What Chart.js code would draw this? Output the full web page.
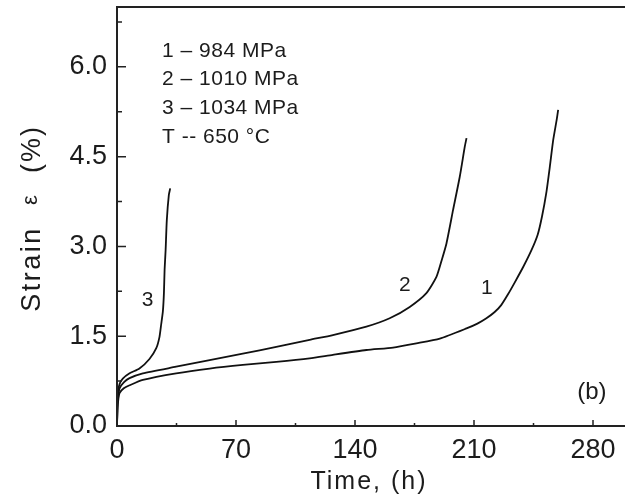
<!DOCTYPE html>
<html>
<head>
<meta charset="utf-8">
<script src="https://cdn.jsdelivr.net/npm/chart.js@4/dist/chart.umd.min.js"></script>
<style>
  html, body { margin: 0; padding: 0; background: #fff; overflow: hidden; width: 625px; height: 503px; }
  #wrap { position: absolute; left: 0; top: 0; width: 640px; height: 503px; }
</style>
</head>
<body>
<div id="wrap"><canvas id="c" width="640" height="503"></canvas></div>
<script>
// ---- data ----
const time1   = [0, 0.3, 0.8, 1.5, 4, 7.4, 15.2, 34.8, 54.5, 74, 93.7, 113.3, 127, 146.7, 162.4, 176.1, 189.9, 205.6, 212, 217.3, 222, 226, 230, 234, 239, 244, 247.5, 250, 252.5, 254.6, 256.6, 258.6, 259.5];
const strain1 = [0, 0.30, 0.45, 0.55, 0.63, 0.68, 0.77, 0.88, 0.96, 1.02, 1.07, 1.13, 1.19, 1.27, 1.31, 1.38, 1.46, 1.63, 1.71, 1.80, 1.90, 2.02, 2.20, 2.40, 2.66, 2.95, 3.20, 3.50, 3.89, 4.33, 4.78, 5.11, 5.28];

const time2   = [0, 0.3, 0.8, 1.5, 4, 7.4, 15.2, 34.8, 54.5, 74, 93.7, 113.3, 127, 146.7, 160.4, 172.2, 182, 187.9, 191, 193.8, 197.7, 201.6, 204.6, 205.6];
const strain2 = [0, 0.35, 0.52, 0.63, 0.73, 0.80, 0.88, 0.99, 1.10, 1.21, 1.32, 1.44, 1.52, 1.66, 1.80, 1.99, 2.22, 2.49, 2.77, 3.05, 3.61, 4.16, 4.67, 4.81];

const time3   = [0, 0.3, 0.8, 1.5, 3.4, 7.4, 13.2, 19.1, 23.1, 25, 26, 27, 27.6, 28, 28.6, 29.3, 30.5, 31.3];
const strain3 = [0, 0.40, 0.60, 0.70, 0.79, 0.88, 0.96, 1.12, 1.30, 1.49, 1.70, 1.92, 2.22, 2.61, 2.94, 3.44, 3.86, 3.97];

const xTicks = [0, 70, 140, 210, 280];
const xMinorTicks = [35, 105, 175, 245];
const yTicks = [0, 1.5, 3.0, 4.5, 6.0];
const yMinorTicks = [0.75, 2.25, 3.75, 5.25, 6.75];

const legendLines = ['1 \u2013 984 MPa', '2 \u2013 1010 MPa', '3 \u2013 1034 MPa', 'T -- 650 \u00B0C'];
const curveLabels = [
  { text: '3', x: 18, y: 2.1 },
  { text: '2', x: 169.3, y: 2.35 },
  { text: '1', x: 217.5, y: 2.31 },
  { text: '(b)', x: 279.3, y: 0.57 }
];
const xTitle = 'Time, (h)';
const yTitleParts = ['Strain', '\u03B5', '(%)'];

// ---- chart ----
const FONT = '"Liberation Sans", Arial, sans-serif';
const INK = '#1c1c1c';
const toPts = (xs, ys) => xs.map((x, i) => ({ x: x, y: ys[i] }));
const noPad = s => { s.paddingTop = 0; s.paddingBottom = 0; s.paddingLeft = 0; s.paddingRight = 0; };

const decor = {
  id: 'decor',
  afterDraw(chart) {
    const ctx = chart.ctx;
    const a = chart.chartArea;
    const xs = chart.scales.x, ys = chart.scales.y;
    ctx.save();
    // frame
    ctx.strokeStyle = '#222';
    ctx.lineWidth = 2;
    ctx.strokeRect(a.left, a.top, a.right - a.left, a.bottom - a.top);
    // inward ticks
    ctx.lineWidth = 1.5;
    ctx.beginPath();
    xTicks.forEach(v => { const p = xs.getPixelForValue(v); ctx.moveTo(p, a.bottom); ctx.lineTo(p, a.bottom - 6); });
    xMinorTicks.forEach(v => { const p = xs.getPixelForValue(v); ctx.moveTo(p, a.bottom); ctx.lineTo(p, a.bottom - 3); });
    yTicks.forEach(v => { const p = ys.getPixelForValue(v); ctx.moveTo(a.left, p); ctx.lineTo(a.left + 9, p); });
    yMinorTicks.forEach(v => { const p = ys.getPixelForValue(v); ctx.moveTo(a.left, p); ctx.lineTo(a.left + 5, p); });
    ctx.stroke();

    ctx.fillStyle = INK;
    // legend text block
    ctx.font = '21px ' + FONT;
    ctx.textAlign = 'left';
    ctx.textBaseline = 'middle';
    ctx.letterSpacing = '0.5px';
    legendLines.forEach((t, i) => ctx.fillText(t, a.left + 45, a.top + 44 + i * 28.7));
    ctx.letterSpacing = '0px';
    // curve labels
    ctx.textAlign = 'center';
    curveLabels.forEach(l => {
      ctx.font = (l.text.length > 1 ? '24px ' : '21px ') + FONT;
      ctx.fillText(l.text, xs.getPixelForValue(l.x), ys.getPixelForValue(l.y));
    });
    // x title
    ctx.font = '25px ' + FONT;
    ctx.letterSpacing = '2px';
    ctx.fillText(xTitle, 369, 482);
    // y title
    ctx.translate(33, 0);
    ctx.rotate(-Math.PI / 2);
    ctx.font = '27px ' + FONT;
    ctx.letterSpacing = '2.5px';
    ctx.fillText(yTitleParts[0], -269, 0);
    ctx.letterSpacing = '0px';
    ctx.font = '22px ' + FONT;
    ctx.fillText(yTitleParts[1], -200, -2);
    ctx.font = '27px ' + FONT;
    ctx.letterSpacing = '2px';
    ctx.fillText(yTitleParts[2], -149, 0);
    ctx.restore();
  }
};

const lineStyle = { borderColor: '#111', borderWidth: 1.8, pointRadius: 0, fill: false, tension: 0.2 };

new Chart(document.getElementById('c'), {
  type: 'scatter',
  data: {
    datasets: [
      Object.assign({ label: '1', data: toPts(time1, strain1), showLine: true }, lineStyle),
      Object.assign({ label: '2', data: toPts(time2, strain2), showLine: true }, lineStyle),
      Object.assign({ label: '3', data: toPts(time3, strain3), showLine: true }, lineStyle)
    ]
  },
  options: {
    responsive: false,
    animation: false,
    devicePixelRatio: 1,
    layout: { padding: { top: 7, right: 13, left: 0, bottom: 0 } },
    plugins: { legend: { display: false }, tooltip: { enabled: false } },
    scales: {
      x: {
        type: 'linear', min: 0, max: 300,
        grid: { display: false }, border: { display: false },
        afterBuildTicks: s => { s.ticks = xTicks.map(v => ({ value: v })); },
        afterFit: s => { s.height = 77; noPad(s); },
        ticks: { color: INK, font: { family: FONT, size: 27 }, padding: 0, maxRotation: 0, autoSkip: false, callback: v => String(v) }
      },
      y: {
        type: 'linear', min: 0, max: 7,
        grid: { display: false }, border: { display: false },
        afterBuildTicks: s => { s.ticks = yTicks.map(v => ({ value: v })); },
        afterFit: s => { s.width = 117; noPad(s); },
        ticks: { color: INK, font: { family: FONT, size: 27 }, padding: 2, autoSkip: false, callback: v => Number(v).toFixed(1) }
      }
    }
  },
  plugins: [decor]
});
</script>
</body>
</html>
